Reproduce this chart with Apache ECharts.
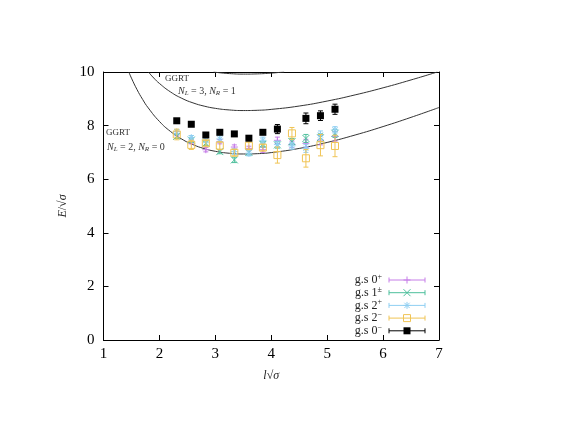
<!DOCTYPE html>
<html>
<head>
<meta charset="utf-8">
<script src="https://cdn.jsdelivr.net/npm/echarts@6/dist/echarts.min.js"></script>
<style>
  html, body { margin: 0; padding: 0; background: #fff; }
  #chart { width: 564px; height: 436px; }
</style>
</head>
<body>
<div id="chart"></div>
<script>
// l*sqrt(sigma) for lattice sizes L = 9 .. 20
var xs = [2.31, 2.57, 2.83, 3.08, 3.34, 3.60, 3.85, 4.11, 4.37, 4.62, 4.88, 5.14];

// E/sqrt(sigma) and errors, per channel (null = no point)
var gs0p = [7.70, 7.40, 7.10, 7.40, 7.20, 7.15, 7.10, 7.45, 7.30, 7.34, 7.46, 7.60];
var gs0pErr = [0.08, 0.08, 0.08, 0.08, 0.08, 0.08, 0.1, 0.12, 0.12, 0.15, 0.18, 0.18];
var gs1 = [7.60, 7.46, 7.34, 7.03, 6.72, 7.00, 7.30, 7.28, 7.40, 7.52, 7.55, 7.71];
var gs1Err = [0.08, 0.08, 0.08, 0.08, 0.1, 0.1, 0.1, 0.12, 0.12, 0.15, 0.15, 0.15];
var gs2p = [7.77, 7.55, 7.46, 7.50, 7.03, 6.97, 7.45, 7.30, 7.24, 7.15, 7.65, 7.84];
var gs2pErr = [0.08, 0.08, 0.1, 0.12, 0.1, 0.1, 0.12, 0.12, 0.12, 0.15, 0.15, 0.12];
var gs2m = [7.67, 7.28, 7.34, 7.25, 6.99, 7.25, 7.18, 6.90, 7.71, 6.78, 7.27, 7.24];
var gs2mErr = [0.2, 0.17, 0.1, 0.15, 0.12, 0.15, 0.12, 0.3, 0.22, 0.33, 0.4, 0.4];
var gs0m = [8.18, 8.05, 7.65, 7.75, 7.69, 7.53, 7.75, 7.87, null, 8.27, 8.37, 8.61];
var gs0mErr = [0.06, 0.06, 0.08, 0.07, 0.07, 0.07, 0.07, 0.17, null, 0.2, 0.18, 0.19];

// GGRT string levels, tabulated
var ggrt20 = [[1.453, 10.0], [1.5, 9.771], [1.6, 9.342], [1.7, 8.976], [1.8, 8.661], [2.0, 8.156],
  [2.2, 7.779], [2.4, 7.497], [2.6, 7.291], [2.8, 7.143], [3.0, 7.041], [3.25, 6.968], [3.5, 6.941],
  [3.75, 6.952], [4.0, 6.993], [4.5, 7.148], [5.0, 7.372], [5.5, 7.649], [6.0, 7.964], [6.5, 8.308], [7.0, 8.675]];
var ggrt31 = [[1.803, 10.0], [1.9, 9.774], [2.0, 9.573], [2.2, 9.254], [2.4, 9.019], [2.6, 8.848],
  [2.8, 8.727], [3.0, 8.644], [3.25, 8.584], [3.5, 8.562], [3.75, 8.571], [4.0, 8.605], [4.5, 8.730],
  [5.0, 8.916], [5.5, 9.146], [6.0, 9.410], [6.5, 9.704], [6.97, 10.0]];
var ggrt42 = [[2.97, 10.0], [3.1, 9.967], [3.25, 9.941], [3.5, 9.922], [3.75, 9.930], [4.0, 9.959],
  [4.15, 9.985], [4.23, 10.0]];

var xTicks = [1, 2, 3, 4, 5, 6, 7];
var yTicks = [0, 2, 4, 6, 8, 10];

var serif = '"Liberation Serif", "DejaVu Serif", serif';

function marker(kind, cx, cy, color) {
  var s = 3.5;
  function ln(x1, y1, x2, y2) {
    return { type: 'line', shape: { x1: cx + x1, y1: cy + y1, x2: cx + x2, y2: cy + y2 }, style: { stroke: color, lineWidth: 1 } };
  }
  if (kind === 'plus') return [ln(-s, 0, s, 0), ln(0, -s, 0, s)];
  if (kind === 'cross') return [ln(-s, -s, s, s), ln(-s, s, s, -s)];
  if (kind === 'star') return [ln(-s, 0, s, 0), ln(0, -s, 0, s), ln(-s * 0.75, -s * 0.75, s * 0.75, s * 0.75), ln(-s * 0.75, s * 0.75, s * 0.75, -s * 0.75)];
  if (kind === 'osquare') return [{ type: 'rect', shape: { x: cx - s, y: cy - s, width: 2 * s, height: 2 * s }, style: { fill: 'none', stroke: color, lineWidth: 1 } }];
  return [{ type: 'rect', shape: { x: cx - s, y: cy - s, width: 2 * s, height: 2 * s }, style: { fill: color } }];
}

function errSeries(name, vals, errs, kind, color) {
  var data = [];
  for (var i = 0; i < xs.length; i++) {
    if (vals[i] != null) data.push([xs[i], vals[i], errs[i]]);
  }
  return {
    name: name,
    type: 'custom',
    data: data,
    clip: true,
    renderItem: function (params, api) {
      var x = api.value(0), y = api.value(1), e = api.value(2);
      var p = api.coord([x, y]);
      var top = api.coord([x, y + e]);
      var bot = api.coord([x, y - e]);
      var c = 2.5;
      var st = { stroke: color, lineWidth: 1 };
      var children = [
        { type: 'line', shape: { x1: p[0], y1: top[1], x2: p[0], y2: bot[1] }, style: st },
        { type: 'line', shape: { x1: p[0] - c, y1: top[1], x2: p[0] + c, y2: top[1] }, style: st },
        { type: 'line', shape: { x1: p[0] - c, y1: bot[1], x2: p[0] + c, y2: bot[1] }, style: st }
      ].concat(marker(kind, p[0], p[1], color));
      return { type: 'group', children: children };
    }
  };
}

function curve(pts) {
  return {
    type: 'line', data: pts, smooth: true, showSymbol: false, symbol: 'none',
    lineStyle: { color: '#333', width: 1 }, silent: true, z: 1
  };
}

var groups = [
  { label: '{t|g.s 0}{s|+}', kind: 'plus', color: '#c67ee8', vals: gs0p, errs: gs0pErr },
  { label: '{t|g.s 1}{s|±}', kind: 'cross', color: '#4dbf9c', vals: gs1, errs: gs1Err },
  { label: '{t|g.s 2}{s|+}', kind: 'star', color: '#90cff2', vals: gs2p, errs: gs2pErr },
  { label: '{t|g.s 2}{s|−}', kind: 'osquare', color: '#f0c455', vals: gs2m, errs: gs2mErr },
  { label: '{t|g.s 0}{s|−}', kind: 'fsquare', color: '#000000', vals: gs0m, errs: gs0mErr }
];

var series = [curve(ggrt20), curve(ggrt31), curve(ggrt42)];
groups.forEach(function (g) {
  series.push(errSeries(g.label, g.vals, g.errs, g.kind, g.color));
});

// hand-drawn key, gnuplot style
var graphics = [];
var keyY0 = 280, keyDy = 12.7;
groups.forEach(function (g, i) {
  var y = keyY0 + i * keyDy;
  graphics.push({
    type: 'text', x: 382, y: y,
    style: {
      text: g.label, align: 'right', verticalAlign: 'middle', fill: '#222',
      rich: { t: { fontFamily: serif, fontSize: 12, fill: '#222' }, s: { fontFamily: serif, fontSize: 8, fill: '#222', verticalAlign: 'top', padding: [0, 0, 6, 0] } }
    }
  });
  var kids = [
    { type: 'line', shape: { x1: 389, y1: y, x2: 425, y2: y }, style: { stroke: g.color, lineWidth: 1 } },
    { type: 'line', shape: { x1: 389, y1: y - 2.5, x2: 389, y2: y + 2.5 }, style: { stroke: g.color, lineWidth: 1 } },
    { type: 'line', shape: { x1: 425, y1: y - 2.5, x2: 425, y2: y + 2.5 }, style: { stroke: g.color, lineWidth: 1 } }
  ].concat(marker(g.kind, 407, y, g.color));
  graphics.push({ type: 'group', children: kids });
});

function nLabel(x, y, a, b) {
  return {
    type: 'text', x: x, y: y,
    style: {
      text: '{i|N}{sub|L}{t| = ' + a + ', }{i|N}{sub|R}{t| = ' + b + '}',
      verticalAlign: 'middle',
      rich: {
        i: { fontFamily: serif, fontStyle: 'italic', fontSize: 10, fill: '#333' },
        sub: { fontFamily: serif, fontStyle: 'italic', fontSize: 7, fill: '#333', verticalAlign: 'bottom', padding: [4, 0, 0, 0] },
        t: { fontFamily: serif, fontSize: 10, fill: '#333' }
      }
    }
  };
}
graphics.push({ type: 'text', x: 165, y: 79, style: { text: 'GGRT', fontFamily: serif, fontSize: 9, fill: '#333', verticalAlign: 'middle' } });
graphics.push(nLabel(178, 91, 3, 1));
graphics.push({ type: 'text', x: 106, y: 133, style: { text: 'GGRT', fontFamily: serif, fontSize: 9, fill: '#333', verticalAlign: 'middle' } });
graphics.push(nLabel(107, 147, 2, 0));

var chart = echarts.init(document.getElementById('chart'));
var axisBase = {
  type: 'value',
  axisLine: { show: true, onZero: false, lineStyle: { color: '#000', width: 1 } },
  axisTick: { show: true, inside: true, length: 5, lineStyle: { color: '#000' } },
  splitLine: { show: false }
};
chart.setOption({
  animation: false,
  backgroundColor: '#fff',
  grid: { left: 103.5, right: 125, top: 72, bottom: 96 },
  xAxis: [
    Object.assign({}, axisBase, {
      position: 'bottom', min: xTicks[0], max: xTicks[xTicks.length - 1], interval: 1,
      axisLabel: { color: '#000', fontFamily: serif, fontSize: 15, margin: 7 },
      name: '{i|l}√{i|σ}', nameLocation: 'middle', nameGap: 30,
      nameTextStyle: { rich: { i: { fontFamily: serif, fontStyle: 'italic', fontSize: 12, color: '#222' } }, fontFamily: serif, fontSize: 12, color: '#222' }
    }),
    Object.assign({}, axisBase, {
      position: 'top', min: xTicks[0], max: xTicks[xTicks.length - 1], interval: 1,
      axisLabel: { show: false }
    })
  ],
  yAxis: [
    Object.assign({}, axisBase, {
      position: 'left', min: yTicks[0], max: yTicks[yTicks.length - 1], interval: 2,
      axisLabel: { color: '#000', fontFamily: serif, fontSize: 15, margin: 9 },
      name: '{i|E}/√{i|σ}', nameLocation: 'middle', nameGap: 34, nameRotate: 90,
      nameTextStyle: { rich: { i: { fontFamily: serif, fontStyle: 'italic', fontSize: 12, color: '#222' } }, fontFamily: serif, fontSize: 12, color: '#222' }
    }),
    Object.assign({}, axisBase, {
      position: 'right', min: yTicks[0], max: yTicks[yTicks.length - 1], interval: 2,
      axisLabel: { show: false }
    })
  ],
  series: series,
  graphic: graphics
});
</script>
</body>
</html>
